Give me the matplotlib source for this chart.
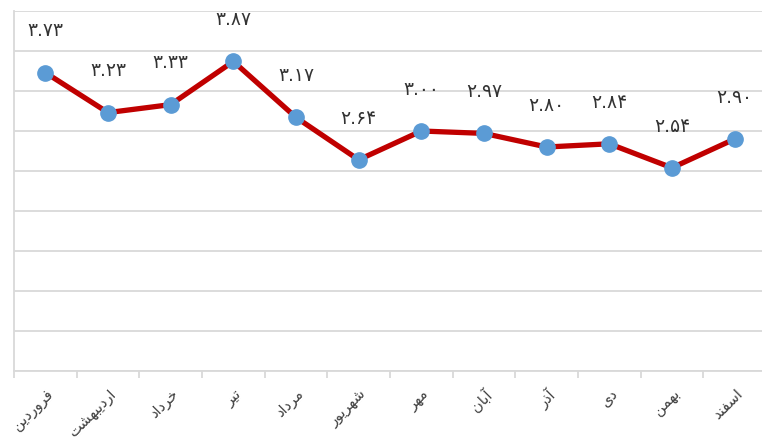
import matplotlib
matplotlib.use('Agg')
import matplotlib.pyplot as plt
import numpy as np

# Persian months and monthly values
months = ["فروردین", "اردیبهشت", "خرداد", "تیر", "مرداد", "شهریور",
          "مهر", "آبان", "آذر", "دی", "بهمن", "اسفند"]
values = [3.73, 3.23, 3.33, 3.87, 3.17, 2.64, 3.00, 2.97, 2.80, 2.84, 2.54, 2.90]

# presentation forms: (isolated, final, initial, medial); None = right-joining only
FORMS = {
    'ا': (0xFE8D, 0xFE8E, None, None),
    'آ': (0xFE81, 0xFE82, None, None),
    'ب': (0xFE8F, 0xFE90, 0xFE91, 0xFE92),
    'ت': (0xFE95, 0xFE96, 0xFE97, 0xFE98),
    'خ': (0xFEA5, 0xFEA6, 0xFEA7, 0xFEA8),
    'د': (0xFEA9, 0xFEAA, None, None),
    'ذ': (0xFEAB, 0xFEAC, None, None),
    'ر': (0xFEAD, 0xFEAE, None, None),
    'س': (0xFEB1, 0xFEB2, 0xFEB3, 0xFEB4),
    'ش': (0xFEB5, 0xFEB6, 0xFEB7, 0xFEB8),
    'ف': (0xFED1, 0xFED2, 0xFED3, 0xFED4),
    'م': (0xFEE1, 0xFEE2, 0xFEE3, 0xFEE4),
    'ن': (0xFEE5, 0xFEE6, 0xFEE7, 0xFEE8),
    'ه': (0xFEE9, 0xFEEA, 0xFEEB, 0xFEEC),
    'و': (0xFEED, 0xFEEE, None, None),
    'ی': (0xFBFC, 0xFBFD, 0xFBFE, 0xFBFF),
}


def shape(word):
    """Join Persian letters into presentation forms, in visual (RTL) order."""
    out = []
    for i, ch in enumerate(word):
        f = FORMS.get(ch)
        if f is None:
            out.append(ch)
            continue
        prev = FORMS.get(word[i - 1]) if i > 0 else None
        nxt = FORMS.get(word[i + 1]) if i + 1 < len(word) else None
        join_prev = prev is not None and prev[2] is not None
        join_next = f[2] is not None and nxt is not None
        if join_prev and join_next:
            code = f[3]
        elif join_prev:
            code = f[1]
        elif join_next:
            code = f[2]
        else:
            code = f[0]
        out.append(chr(code))
    return ''.join(reversed(out))


def fa_num(v):
    digits = '۰۱۲۳۴۵۶۷۸۹'
    return ''.join(digits[int(c)] if c.isdigit() else c for c in f'{v:.2f}')


fig = plt.figure(figsize=(7.62, 4.43), dpi=100)
W, H = 762, 443
left, right, top, bottom = 14, 766, 11, 371
ax = fig.add_axes([left / W, 1 - bottom / H, (right - left) / W, (bottom - top) / H])

x = np.arange(len(months))
ax.plot(x, values, color='#C00000', linewidth=3.8, marker='o', markersize=11,
        markerfacecolor='#5B9BD5', markeredgecolor='#5B9BD5', zorder=3, clip_on=False)

for xi, v in zip(x, values):
    ax.annotate(fa_num(v), (xi, v), xytext=(0, 30), textcoords='offset points',
                ha='center', va='center', fontsize=13.5, color='#333333',
                family='DejaVu Sans')

ax.set_xlim(-0.5, len(months) - 0.5)
ax.set_ylim(0, 4.5)
ax.set_yticks(np.arange(0, 4.51, 0.5))
ax.set_yticklabels([])
ax.tick_params(axis='y', length=0)
ax.grid(axis='y', color='#D9D9D9', linewidth=1.3)
ax.set_axisbelow(True)

ax.set_xticks(np.arange(-0.5, len(months), 1.0), minor=False)
ax.set_xticklabels([])
ax.tick_params(axis='x', length=5, color='#D9D9D9', width=1.3)
ax.set_xticks(x, minor=True)
ax.set_xticklabels([shape(m) for m in months], minor=True, rotation=45,
                   ha='right', va='top', rotation_mode='anchor',
                   fontsize=10.5, color='#404040', family='DejaVu Sans')
ax.tick_params(axis='x', which='minor', length=0, pad=11)

for s in ['top', 'right']:
    ax.spines[s].set_visible(False)
for s in ['left', 'bottom']:
    ax.spines[s].set_color('#D9D9D9')
    ax.spines[s].set_linewidth(1.3)

fig.savefig('out.png', dpi=100)
